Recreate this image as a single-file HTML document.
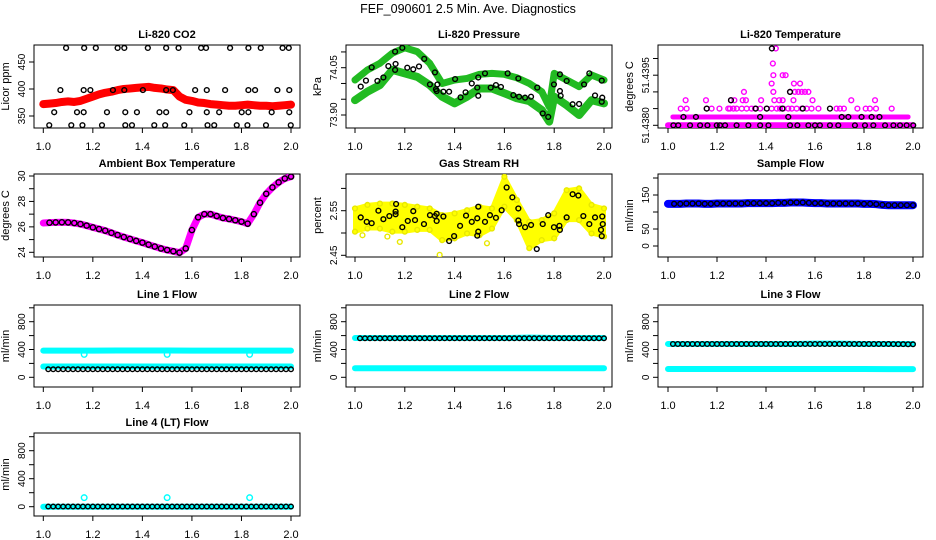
<!DOCTYPE html>
<html><head><meta charset="utf-8"><style>
html,body{margin:0;padding:0;background:#fff;}
svg{display:block;font-family:"Liberation Sans",Arial,sans-serif;}
</style></head><body>
<svg id="chart" width="936" height="540" viewBox="0 0 936 540" xmlns="http://www.w3.org/2000/svg">
<rect width="936" height="540" fill="#fff"/>
<text x="468" y="13" text-anchor="middle" font-size="12.5">FEF_090601  2.5 Min. Ave. Diagnostics</text>
</svg>
<script>
// ===== data =====
const xTicks = [1.0,1.2,1.4,1.6,1.8,2.0];
const xTickLabels = ["1.0","1.2","1.4","1.6","1.8","2.0"];
const xGrid = [1.000,1.025,1.050,1.075,1.100,1.125,1.150,1.175,1.200,1.225,1.250,1.275,1.300,1.325,1.350,1.375,1.400,1.425,1.450,1.475,1.500,1.525,1.550,1.575,1.600,1.625,1.650,1.675,1.700,1.725,1.750,1.775,1.800,1.825,1.850,1.875,1.900,1.925,1.950,1.975,2.000];
const xTenth = [1.0,1.1,1.2,1.3,1.4,1.5,1.6,1.7,1.8,1.9,2.0];
const blackX = [1.02,1.04,1.06,1.08,1.10,1.12,1.14,1.16,1.18,1.20,1.22,1.24,1.26,1.28,1.30,1.32,1.34,1.36,1.38,1.40,1.42,1.44,1.46,1.48,1.50,1.52,1.54,1.56,1.58,1.60,1.62,1.64,1.66,1.68,1.70,1.72,1.74,1.76,1.78,1.80,1.82,1.84,1.86,1.88,1.90,1.92,1.94,1.96,1.98,2.00];

// CO2
const co2Red = [372,373,374,376,377,376,378,382,386,390,393,395,398,400,401,402,403,404,402,401,399,398,386,380,378,375,374,372,371,370,369,369,370,371,370,369,369,368,369,370,371];
const co2BlackX = [1.092,1.165,1.212,1.300,1.327,1.422,1.496,1.546,1.637,1.657,1.754,1.828,1.878,1.966,1.991,
 1.069,1.163,1.190,1.281,1.327,1.402,1.496,1.523,1.613,1.660,1.734,1.828,1.855,1.945,1.993,
 1.044,1.136,1.163,1.257,1.331,1.378,1.469,1.496,1.590,1.660,1.710,1.801,1.828,1.922,1.993,
 1.024,1.113,1.158,1.237,1.331,1.358,1.448,1.492,1.569,1.663,1.690,1.781,1.824,1.899,1.999];
const co2BlackY = [476,476,476,476,476,476,476,476,476,476,476,476,476,476,476,
 398,398,398,398,398,398,398,398,398,398,398,398,398,398,398,
 357,357,357,357,357,357,357,357,357,357,357,357,357,357,357,
 333,333,333,333,333,333,333,333,333,333,333,333,333,333,333];

// Pressure
const presX = [1.0,1.05,1.1,1.15,1.2,1.25,1.3,1.35,1.4,1.45,1.5,1.55,1.6,1.65,1.7,1.75,1.78,1.8,1.85,1.9,1.95,2.0];
const presUpper = [74.011,74.043,74.064,74.096,74.113,74.101,74.064,74.0,74.011,74.016,74.029,74.032,74.029,74.018,74.0,73.974,73.926,74.032,74.011,73.990,74.027,74.011];
const presLower = [73.947,73.974,73.995,74.043,74.032,74.021,73.995,73.958,73.937,73.958,73.984,73.984,73.969,73.953,73.944,73.916,73.879,73.958,73.931,73.900,73.947,73.937];
const presBlackX = [1.023,1.044,1.067,1.090,1.114,1.134,1.161,1.163,1.161,1.190,1.210,1.234,1.257,1.278,1.301,1.321,1.325,1.328,1.331,1.355,1.378,1.402,1.424,1.444,1.469,1.491,1.495,1.495,1.522,1.545,1.566,1.586,1.613,1.636,1.656,1.659,1.683,1.707,1.732,1.754,1.776,1.799,1.823,1.823,1.826,1.850,1.874,1.900,1.920,1.941,1.964,1.991,1.991,1.993];
const presBlackY = [73.990,74.009,74.051,74.008,74.019,74.055,74.101,74.062,74.043,74.113,74.050,74.045,74.054,74.078,73.997,74.035,73.982,73.976,73.997,73.974,73.974,74.014,73.956,73.972,74.000,73.987,74.019,73.961,74.032,73.987,73.995,73.989,74.032,73.963,74.016,73.958,73.955,73.958,73.987,73.905,73.894,73.997,74.029,73.976,73.961,74.008,73.934,73.935,73.997,74.032,73.962,74.009,73.942,73.955];

// Li-820 temperature (magenta scattered levels)
const tempMagX = [1.052,1.076,1.158,1.178,1.210,1.246,1.253,1.267,1.280,1.301,1.321,1.341,1.355,1.376,1.403,1.423,1.444,1.457,1.471,1.491,1.505,1.525,1.546,1.566,1.586,1.614,1.688,1.702,1.718,1.773,1.807,1.824,1.849,1.913,
 1.072,1.155,1.257,1.271,1.305,1.318,1.380,1.434,1.454,1.468,1.512,1.590,1.748,1.845,
 1.310,1.430,1.498,1.518,1.532,1.546,1.559,1.573,
 1.423,1.514,1.539,
 1.430,1.468,1.480,
 1.428,1.440];
const tempMagY = [51.4385,51.4385,51.4385,51.4385,51.4385,51.4385,51.4385,51.4385,51.4385,51.4385,51.4385,51.4385,51.4385,51.4385,51.4385,51.4385,51.4385,51.4385,51.4385,51.4385,51.4385,51.4385,51.4385,51.4385,51.4385,51.4385,51.4385,51.4385,51.4385,51.4385,51.4385,51.4385,51.4385,51.4385,
 51.43875,51.43875,51.43875,51.43875,51.43875,51.43875,51.43875,51.43875,51.43875,51.43875,51.43875,51.43875,51.43875,51.43875,
 51.4390,51.4390,51.4390,51.4390,51.4390,51.4390,51.4390,51.4390,
 51.43925,51.43925,51.43925,
 51.4395,51.4395,51.4395,
 51.43985,51.4403];
const tempBaseLevels = [51.4380,51.43825];
const tempBlackX = [1.022,1.042,1.090,1.131,1.161,1.199,1.212,1.233,1.280,1.328,1.376,1.410,1.498,1.528,1.573,1.600,1.620,1.661,1.695,1.763,1.804,1.838,1.886,1.920,1.947,1.974,2.001,
 1.063,1.114,1.376,1.491,1.709,1.736,1.790,1.831,1.863,
 1.158,1.358,1.403,1.467,1.550,1.661,
 1.257,1.498,1.424];
const tempBlackY = [51.4380,51.4380,51.4380,51.4380,51.4380,51.4380,51.4380,51.4380,51.4380,51.4380,51.4380,51.4380,51.4380,51.4380,51.4380,51.4380,51.4380,51.4380,51.4380,51.4380,51.4380,51.4380,51.4380,51.4380,51.4380,51.4380,51.4380,
 51.43825,51.43825,51.43825,51.43825,51.43825,51.43825,51.43825,51.43825,51.43825,
 51.4385,51.4385,51.4385,51.4385,51.4385,51.4385,
 51.43875,51.4390,51.4403];

// Ambient box temperature
const ambient = [26.30,26.33,26.35,26.36,26.35,26.30,26.22,26.10,25.96,25.83,25.70,25.53,25.36,25.20,25.05,24.90,24.76,24.60,24.45,24.30,24.18,24.08,23.97,24.30,25.75,26.75,27.00,27.00,26.85,26.70,26.62,26.52,26.41,26.25,27.00,27.90,28.60,29.10,29.50,29.80,29.95];

// Gas stream RH
const rhX = [1.0,1.05,1.1,1.15,1.2,1.25,1.3,1.35,1.4,1.45,1.5,1.55,1.6,1.65,1.7,1.75,1.8,1.85,1.9,1.95,2.0];
const rhUpper = [2.555,2.563,2.566,2.566,2.563,2.559,2.555,2.540,2.544,2.551,2.559,2.555,2.626,2.574,2.525,2.529,2.544,2.596,2.600,2.563,2.555];
const rhLower = [2.503,2.510,2.510,2.503,2.503,2.507,2.507,2.484,2.488,2.499,2.495,2.510,2.559,2.529,2.466,2.484,2.488,2.529,2.529,2.499,2.492];
const rhOutlierX = [1.34,1.18,1.53,1.03,1.13];
const rhOutlierY = [2.451,2.480,2.477,2.495,2.492];
const rhBlackX = [1.023,1.047,1.067,1.094,1.114,1.138,1.163,1.163,1.165,1.190,1.212,1.234,1.241,1.277,1.301,1.321,1.328,1.328,1.355,1.378,1.398,1.422,1.446,1.469,1.491,1.491,1.495,1.495,1.522,1.542,1.566,1.589,1.609,1.632,1.656,1.656,1.659,1.683,1.707,1.730,1.754,1.776,1.799,1.821,1.823,1.850,1.874,1.897,1.917,1.941,1.964,1.988,1.991,1.993,1.995];
const rhBlackY = [2.535,2.525,2.522,2.550,2.531,2.538,2.548,2.542,2.565,2.513,2.527,2.549,2.529,2.520,2.540,2.538,2.527,2.543,2.537,2.482,2.493,2.516,2.539,2.525,2.533,2.494,2.559,2.503,2.525,2.540,2.534,2.551,2.602,2.580,2.555,2.528,2.520,2.513,2.518,2.464,2.520,2.540,2.513,2.516,2.507,2.535,2.587,2.584,2.538,2.520,2.535,2.507,2.493,2.537,2.520];

// Sample flow
const sampleBlue = [124,124,124,125,125,125,124,124,125,125,125,125,125,126,126,126,126,126,127,127,128,128,128,127,126,126,125,125,125,125,125,125,124,124,123,121,120,120,120,120,120];

// Line flows (values at xTenth)
const line1Upper = [383,383,384,385,386,386,384,383,383,383,383];
const line1Lower = [155,155,155,155,155,155,155,155,155,155,155];
const line1Black = [115,115,115,115,115,115,115,115,115,115,115];
const line2Upper = [565,565,565,565,565,565,565,570,565,565,565];
const line2Lower = [130,130,130,130,130,130,130,130,130,130,130];
const line2Black = [561,561,561,561,561,561,561,561,561,561,561];
const line3Upper = [480,480,480,480,480,480,485,485,480,480,480];
const line3Lower = [120,120,120,120,120,120,120,120,120,118,118];
const line3Black = [479,479,479,479,479,479,479,479,479,479,475];
const line4Cyan = [0,0,0,0,0,0,0,0,0,0,0];
const line4Black = [2,2,2,2,2,2,2,2,2,2,2];
const dipX = [1.165,1.500,1.833];
const line1Dip = [330,330,330];
const line4Dip = [129,129,129];

// ===== drawing =====
const svg = document.getElementById('chart');
const NS = 'http://www.w3.org/2000/svg';
function mk(tag, attrs, parent){
  const e = document.createElementNS(NS, tag);
  for (const k in attrs) e.setAttribute(k, attrs[k]);
  (parent||svg).appendChild(e);
  return e;
}
function panel(name, title, ylab, L, R, T, B, x1p, x2p, v1, p1, v2, p2, yt, ytl){
  const g = mk('g', {});
  
  
  const sx = v => x1p + (v - 1) * (x2p - x1p);
  const sy = v => p1 + (v - v1) * (p2 - p1) / (v2 - v1);
  const t = mk('text', {x:(L+R)/2, y:T-7, 'text-anchor':'middle', 'font-size':11, 'font-weight':'bold'}, g);
  t.textContent = title;
  
  
  const fr = mk('rect', {x:L, y:T, width:R-L, height:B-T, fill:'none', stroke:'#000', 'stroke-width':1}, g);
  
  
  xTicks.forEach((v,i)=>{
    mk('line',{x1:sx(v),x2:sx(v),y1:B,y2:B+5,stroke:'#000'},g);
    const tl = mk('text',{x:sx(v),y:B+22,'text-anchor':'middle','font-size':11},g);
    tl.textContent = xTickLabels[i];
    
    
  });
  yt.forEach(v=>{ mk('line',{x1:L-5,x2:L,y1:sy(v),y2:sy(v),stroke:'#000'},g); });
  ytl.forEach(v=>{
    const yy = sy(v[0]) + (v[2]||0);
    const tl = mk('text',{x:L-9,y:yy,'text-anchor':'middle','font-size':10,transform:`rotate(-90 ${L-9} ${yy})`},g);
    tl.textContent = v[1];
    
    
  });
  const yl = mk('text',{x:L-25,y:(T+B)/2,'text-anchor':'middle','font-size':11,transform:`rotate(-90 ${L-25} ${(T+B)/2})`},g);
  yl.textContent = ylab;
  
  
  const clip = 'c'+name;
  const cp = mk('clipPath',{id:clip},g); mk('rect',{x:L,y:T,width:R-L,height:B-T},cp);
  const d = mk('g',{'clip-path':`url(#${clip})`},g);
  return {sx, sy, g:d};
}
function band(p, xs, ys, color, w, nm){
  const pl = mk('polyline',{points:xs.map((x,i)=>p.sx(x)+','+p.sy(ys[i])).join(' '),fill:'none',stroke:color,'stroke-width':w,'stroke-linecap':'round','stroke-linejoin':'round'},p.g);
  
  
}
function pts(p, xs, ys, color, nm, r){
  xs.forEach((x,i)=>{
    const c = mk('circle',{cx:p.sx(x),cy:p.sy(ys[i]),r:r||2.4,fill:'none',stroke:color,'stroke-width':1.4},p.g);
    
    
  });
}
function interp(xs, ys, x){
  for (let i=0;i<xs.length-1;i++){ if (x<=xs[i+1]) return ys[i]+(ys[i+1]-ys[i])*(x-xs[i])/(xs[i+1]-xs[i]); }
  return ys[ys.length-1];
}
const C1=[34,300,43.3,291], C2=[346,612,355,604], C3=[658,923,668,913];
const R1=[45,128], R2=[174,257], R3=[305,387], R4=[433,516];

// CO2
let p = panel('co2-panel','Li-820 CO2','Licor ppm',C1[0],C1[1],R1[0],R1[1],C1[2],C1[3],350,116,450,62,[350,400,450],[[350,'350'],[400,'400'],[450,'450']]);
band(p, xGrid, co2Red, '#ff0000', 8, 'co2-series');
pts(p, xGrid, co2Red, '#ff0000', 'co2-point', 2.6);
pts(p, co2BlackX, co2BlackY, '#000', 'co2-avg-point');

// Pressure
p = panel('pressure-panel','Li-820 Pressure','kPa',C2[0],C2[1],R1[0],R1[1],C2[2],C2[3],73.90,115,74.05,67.7,[73.90,73.95,74.00,74.05,74.10],[[73.90,'73.90'],[74.05,'74.05']]);
band(p, presX, presUpper, '#22bb22', 7, 'pressure-series-upper');
band(p, presX, presLower, '#22bb22', 8, 'pressure-series-lower');
pts(p, presX, presUpper, '#22bb22', 'pressure-point', 2.6);
pts(p, presX, presLower, '#22bb22', 'pressure-point', 2.6);
pts(p, presBlackX, presBlackY, '#000', 'pressure-avg-point');

// Li-820 temperature
p = panel('li820-temp-panel','Li-820 Temperature','degrees C',C3[0],C3[1],R1[0],R1[1],C3[2],C3[3],51.4380,125.3,51.4395,75.2,[51.4380,51.4385,51.4390,51.4395,51.4400],[[51.4380,'51.4380'],[51.4395,'51.4395']]);
band(p, [1.0,2.0], [tempBaseLevels[0],tempBaseLevels[0]], '#ff00ff', 6, 'temp-base-series');
band(p, [1.02,1.98], [tempBaseLevels[1],tempBaseLevels[1]], '#ff00ff', 5, 'temp-level-series');
pts(p, tempMagX, tempMagY, '#ff00ff', 'temp-point');
pts(p, tempBlackX, tempBlackY, '#000', 'temp-avg-point');

// Ambient
p = panel('ambient-temp-panel','Ambient Box Temperature','degrees C',C1[0],C1[1],R2[0],R2[1],C1[2],C1[3],24,252.3,30,176,[24,25,26,27,28,29,30],[[24,'24'],[26,'26'],[28,'28'],[30,'30']]);
band(p, xGrid, ambient, '#ff00ff', 7, 'ambient-series');
pts(p, xGrid.slice(1), ambient.slice(1), '#000', 'ambient-avg-point', 2.6);

// RH
p = panel('rh-panel','Gas Stream RH','percent',C2[0],C2[1],R2[0],R2[1],C2[2],C2[3],2.45,255.3,2.55,210.7,[2.45,2.50,2.55,2.60],[[2.45,'2.45'],[2.55,'2.55']]);
const poly = mk('polygon',{points:rhX.map((x,i)=>p.sx(x)+','+p.sy(rhUpper[i])).concat(rhX.slice().reverse().map((x,j)=>{const i=rhX.length-1-j;return p.sx(x)+','+p.sy(rhLower[i]);})).join(' '),fill:'#ffff00',stroke:'#ffff00','stroke-width':4,'stroke-linejoin':'round'},p.g);


pts(p, rhX, rhUpper, '#e8e800', 'rh-point');
pts(p, rhX, rhLower, '#e8e800', 'rh-point');
pts(p, rhOutlierX, rhOutlierY, '#e8e800', 'rh-outlier');
pts(p, rhBlackX, rhBlackY, '#000', 'rh-avg-point');

// Sample flow
p = panel('sample-flow-panel','Sample Flow','ml/min',C3[0],C3[1],R2[0],R2[1],C3[2],C3[3],0,246,150,195,[0,50,100,150,200],[[0,'0'],[50,'50'],[150,'150']]);
band(p, xGrid, sampleBlue, '#0000ff', 8, 'sample-flow-series');
pts(p, xGrid.slice(1), sampleBlue.slice(1), '#000', 'sample-flow-avg-point', 2.4);

// Line flows
function flowPanel(name,title,C,R,v1,p1,up,lo,bl,dipVals){
  const q = panel(name,title,'ml/min',C[0],C[1],R[0],R[1],C[2],C[3],0,p1,800,v1,[0,200,400,600,800,1000],[[0,'0'],[400,'400'],[800,'800']]);
  if (up) band(q, xTenth, up, '#00ffff', 6, name+'-series-upper');
  band(q, xTenth, lo, '#00ffff', 6, name+'-series-lower');
  if (dipVals) pts(q, dipX, dipVals, '#00ffff', name+'-outlier', 2.8);
  pts(q, blackX, blackX.map(x=>interp(xTenth, bl, x)), '#000', name+'-avg-point', 2.3);
  return q;
}
flowPanel('line1-flow-panel','Line 1 Flow',C1,R3,321.7,377.3,line1Upper,line1Lower,line1Black,line1Dip);
flowPanel('line2-flow-panel','Line 2 Flow',C2,R3,321.7,377.3,line2Upper,line2Lower,line2Black,null);
flowPanel('line3-flow-panel','Line 3 Flow',C3,R3,321.7,377.3,line3Upper,line3Lower,line3Black,null);
flowPanel('line4-flow-panel','Line 4 (LT) Flow',C1,R4,450.7,506.7,null,line4Cyan,line4Black,line4Dip);
</script>
</body></html>
